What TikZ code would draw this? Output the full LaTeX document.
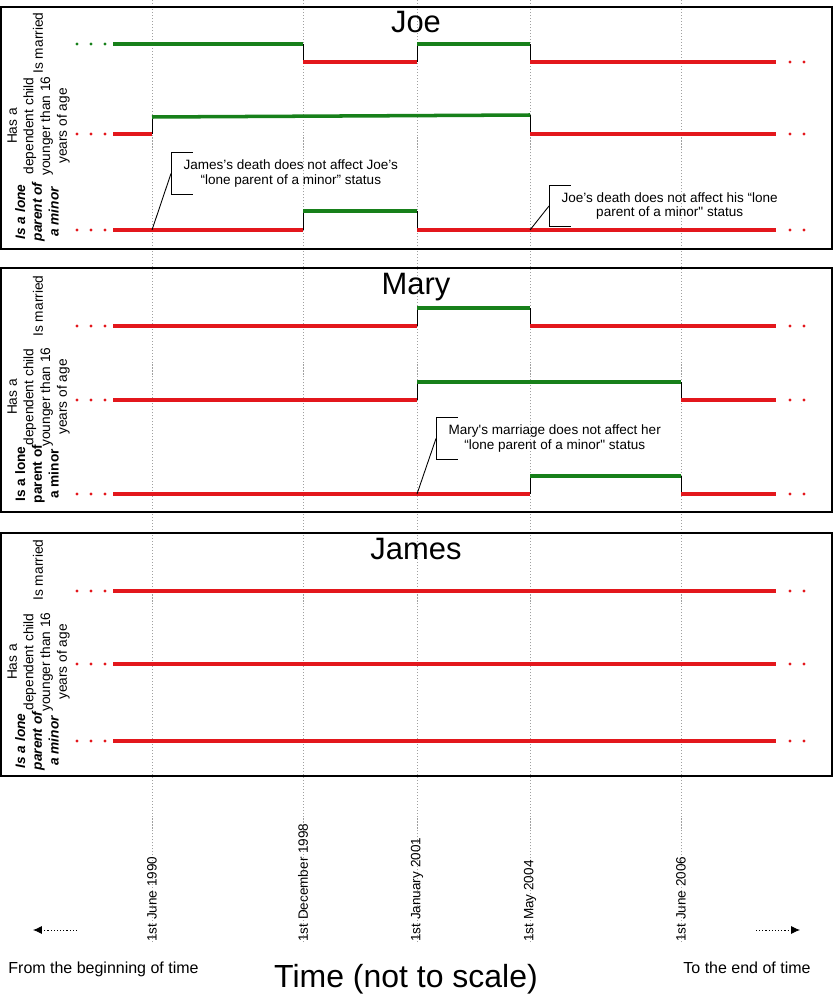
\documentclass[tikz,border=0pt]{standalone}
\usepackage{fontspec}
\setmainfont{Liberation Sans}
\usetikzlibrary{arrows.meta,positioning,backgrounds}
\definecolor{lowred}{HTML}{E3171C}
\definecolor{highgreen}{HTML}{17801A}
\definecolor{guidegrey}{HTML}{A0A0A0}

\begin{document}
\begin{tikzpicture}[x=0.02cm,y=-0.02cm,
    panel/.style={draw=black,line width=0.9pt},
    lo/.style={draw=lowred,line width=2pt},
    hi/.style={draw=highgreen,line width=2pt},
    riser/.style={draw=black,line width=0.5pt},
    guide/.style={draw=guidegrey,line width=0.55pt,dash pattern=on 0.6pt off 1.1pt},
    title/.style={font=\fontsize{17.6}{20}\selectfont,anchor=base},
    rowlabel/.style={rotate=90,align=center,inner sep=0pt,font=\fontsize{7.8}{9.5}\selectfont},
    lonelabel/.style={rowlabel,font=\fontsize{7.8}{9.5}\selectfont\bfseries\itshape},
    datelabel/.style={rotate=90,anchor=west,inner sep=0pt,font=\fontsize{7.7}{9.5}\selectfont},
    callout/.style={anchor=west,align=center,inner xsep=7pt,inner ysep=0pt,
                    minimum height=23.3pt,font=\fontsize{7.7}{8.5}\selectfont},
    bracket/.style={draw=black,line width=0.5pt},
    timearrow/.style={draw=black,line width=0.5pt,dash pattern=on 0.6pt off 1.2pt,
                      -{Latex[length=5pt,width=4.5pt]}},
    endnote/.style={font=\fontsize{9.1}{11}\selectfont,anchor=base}]
  \useasboundingbox (0,0) rectangle (833,997);
  \coordinate (top) at (0,0);

  % dates along the time axis
  \node[datelabel] (jun90) at (152,942) {1st June 1990};
  \node[datelabel] (dec98) at (303,942) {1st December 1998};
  \node[datelabel] (jan01) at (417,942) {1st January 2001};
  \node[datelabel] (may04) at (530,942) {1st May 2004};
  \node[datelabel] (jun06) at (681,942) {1st June 2006};
  \begin{scope}[on background layer]
    \foreach \d in {jun90,dec98,jan01,may04,jun06}
      \draw[guide] (\d.west) -- (\d.west |- top);
  \end{scope}

  % panels
  \draw[panel] (1,7) rectangle (832,249);
  \draw[panel] (1,268) rectangle (832,512);
  \draw[panel] (1,533) rectangle (832,776);
  \node[title] (joe) at (416,33) {Joe};
  \node[title] (mary) at (416,294) {Mary};
  \node[title] (james) at (416,559) {James};

  % row labels
  \node[rowlabel] (joemar) at (38,43) {Is married};
  \node[rowlabel] (joechild) at (38.5,126) {Has a\\dependent child\\younger than 16\\years of age};
  \node[lonelabel] (joelone) at (37,212) {Is a lone\\parent of\\a minor};
  \node[rowlabel] (marymar) at (38,306) {Is married};
  \node[rowlabel] (marychild) at (38.5,397) {Has a\\dependent child\\younger than 16\\years of age};
  \node[lonelabel,font=\fontsize{7.8}{9.5}\selectfont\bfseries] (marylone) at (37,474) {Is a lone\\parent of\\a minor};
  \node[rowlabel] (jamesmar) at (38,570) {Is married};
  \node[rowlabel] (jameschild) at (38.5,662) {Has a\\dependent child\\younger than 16\\years of age};
  \node[lonelabel] (jameslone) at (37,741) {Is a lone\\parent of\\a minor};

  % Joe
  \draw[riser] (303,44) -- (303,62) (417,62) -- (417,44) (530,44) -- (530,62);
  \draw[hi] (113,44) -- (303,44);
  \draw[lo] (303,62) -- (417,62);
  \draw[hi] (417,44) -- (530,44);
  \draw[lo] (530,62) -- (776,62);
  \draw[riser] (152,134) -- (152,117) (530,115) -- (530,134);
  \draw[lo] (113,134) -- (152,134);
  \draw[hi] (152,117) -- (530,115);
  \draw[lo] (530,134) -- (776,134);
  \draw[riser] (303,230) -- (303,211) (417,211) -- (417,230);
  \draw[lo] (113,230) -- (303,230);
  \draw[hi] (303,211) -- (417,211);
  \draw[lo] (417,230) -- (776,230);

  % Mary
  \draw[riser] (417,326) -- (417,308) (530,308) -- (530,326);
  \draw[lo] (113,326) -- (417,326);
  \draw[hi] (417,308) -- (530,308);
  \draw[lo] (530,326) -- (776,326);
  \draw[riser] (417,400) -- (417,382) (681,382) -- (681,400);
  \draw[lo] (113,400) -- (417,400);
  \draw[hi] (417,382) -- (681,382);
  \draw[lo] (681,400) -- (776,400);
  \draw[riser] (530,494) -- (530,476) (681,476) -- (681,494);
  \draw[lo] (113,494) -- (530,494);
  \draw[hi] (530,476) -- (681,476);
  \draw[lo] (681,494) -- (776,494);

  % James
  \draw[lo] (113,591) -- (776,591);
  \draw[lo] (113,664) -- (776,664);
  \draw[lo] (113,741) -- (776,741);

  % dots before and after
  \foreach \y/\col in {44/highgreen,134/lowred,230/lowred,326/lowred,400/lowred,
                       494/lowred,591/lowred,664/lowred,741/lowred}
    \foreach \x in {77,91,105}
      \fill[\col] (\x,\y) circle (0.9pt);
  \foreach \y in {62,134,230,326,400,494,591,664,741}
    \foreach \x in {790,804}
      \fill[lowred] (\x,\y) circle (0.9pt);

  % callouts
  \coordinate (jamesdeath) at (152,230);
  \coordinate (joedeath) at (530,230);
  \coordinate (marywed) at (417,494);
  \node[callout] (c1) at (171,173.5) {James’s death does not affect Joe’s\\“lone parent of a minor” status};
  \node[callout] (c2) at (549,206) {Joe’s death does not affect his “lone\\parent of a minor\textquotedbl{} status};
  \node[callout] (c3) at (436,438.5) {Mary\textquotesingle s marriage does not affect her\\“lone parent of a minor\textquotedbl{} status};
  \foreach \c/\t in {c1/jamesdeath,c2/joedeath,c3/marywed} {
    \draw[bracket] ([xshift=12.5pt]\c.north west) -- (\c.north west)
      -- (\c.south west) -- ([xshift=12.5pt]\c.south west);
    \draw[bracket] (\c.west) -- (\t);
  }

  % time axis
  \node[endnote] (past) at (103.5,973) {From the beginning of time};
  \node[endnote] (future) at (747,973) {To the end of time};
  \node[font=\fontsize{18.2}{22}\selectfont,anchor=base] (axis) at (406,987) {Time (not to scale)};
  \coordinate (pastfrom) at (77,930);
  \coordinate (pastto) at (33,930);
  \coordinate (futfrom) at (756,930);
  \coordinate (futto) at (800,930);
  \draw[timearrow] (pastfrom) -- (pastto);
  \draw[timearrow] (futfrom) -- (futto);
\end{tikzpicture}
\end{document}
